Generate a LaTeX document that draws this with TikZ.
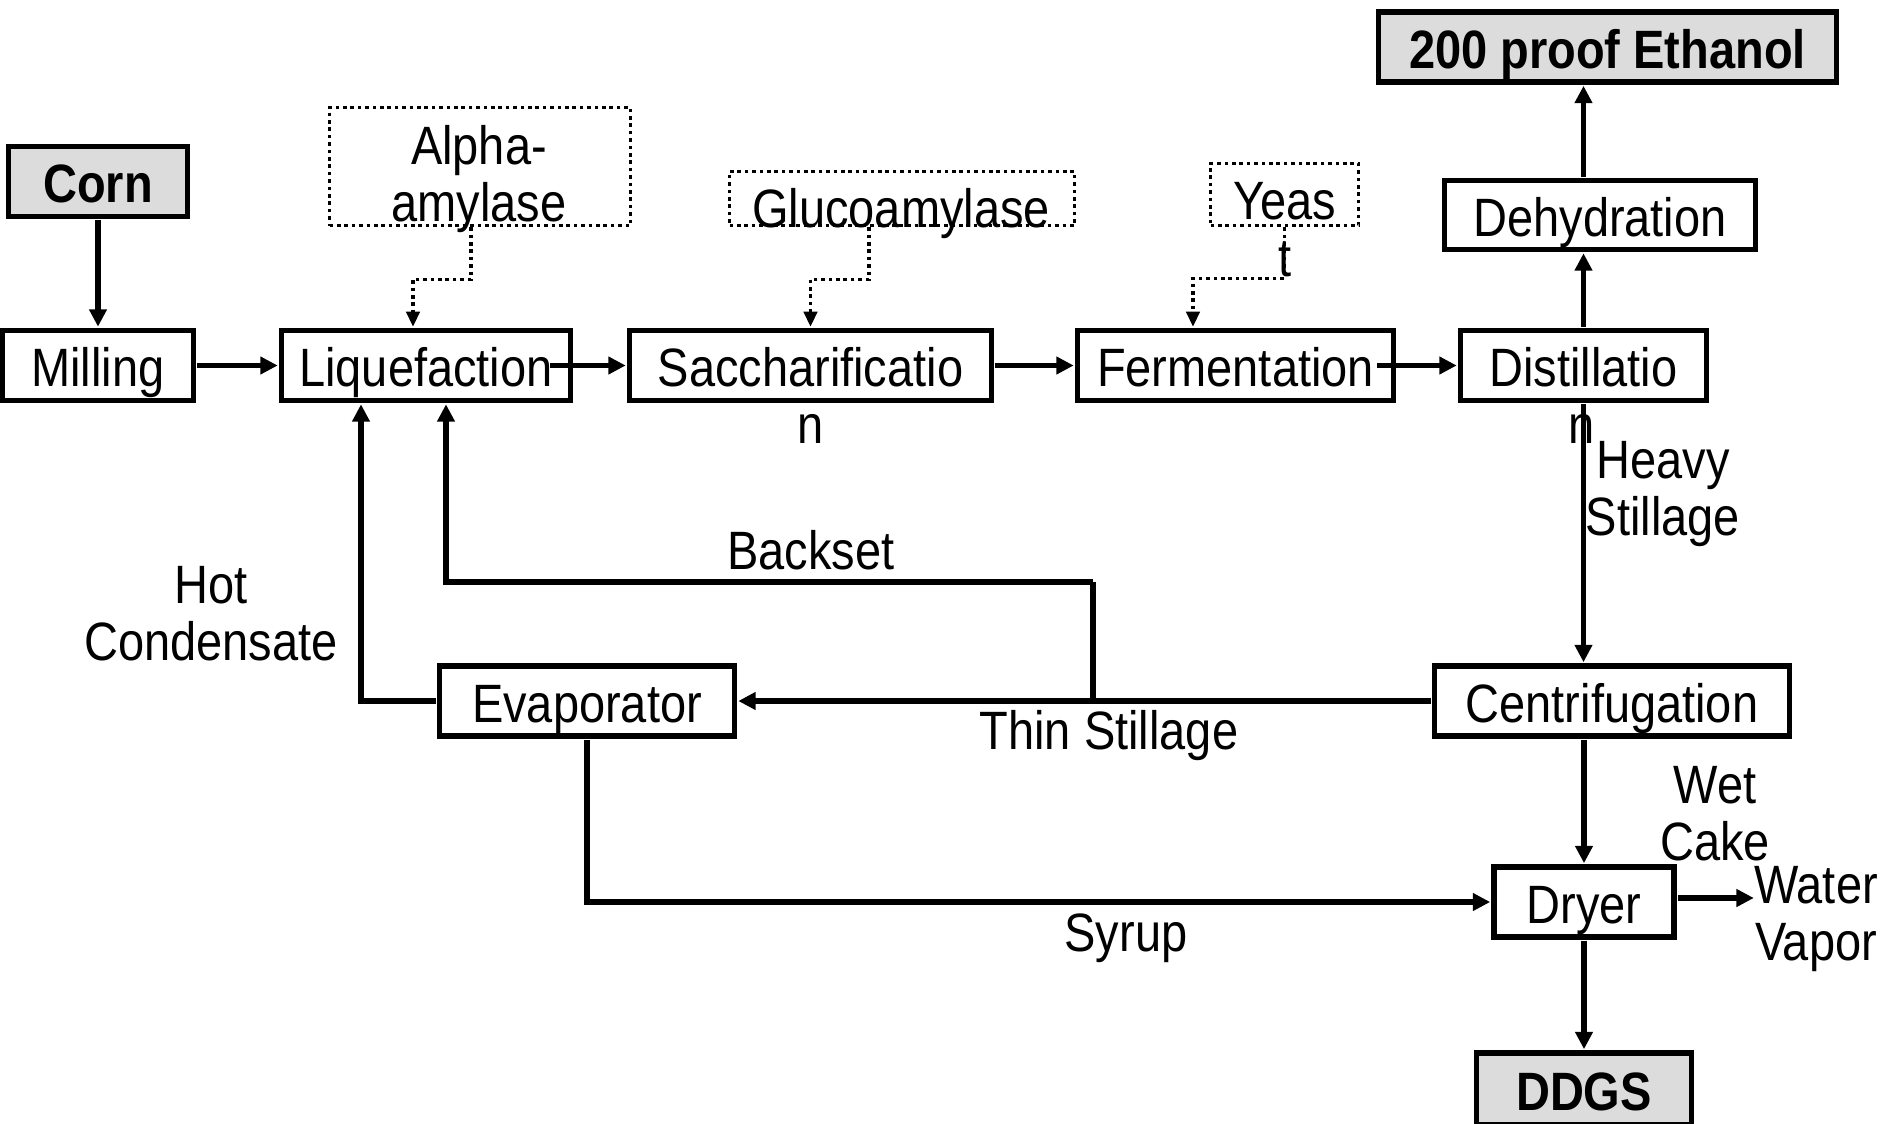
\documentclass[tikz,border=0pt]{standalone}
\usepackage{fontspec}
\setmainfont{Liberation Sans}[FakeStretch=0.87]
\usetikzlibrary{arrows.meta}
\definecolor{stockgray}{HTML}{DCDCDC}
\tikzset{
  unit/.style={draw,line width=2.8pt,minimum height=35pt,inner sep=0pt,outer sep=1.9pt,
    text height=24pt,text depth=2.7pt},
  endbox/.style={unit,fill=stockgray,font=\fontsize{27}{28.5}\selectfont\bfseries},
  additive/.style={draw,line width=1.6pt,dash pattern=on 1.8pt off 1.9pt,inner sep=0pt},
  txt/.style={inner sep=0pt,align=center},
  flow/.style={line width=2.8pt,-{Triangle[length=8.7pt,width=8.5pt]}},
  feed/.style={line width=1.6pt,dash pattern=on 1.8pt off 1.9pt,-{Triangle[length=7.5pt,width=6.7pt]}}
}
\begin{document}
\begin{tikzpicture}[x=0.5pt,y=-0.5pt,font=\fontsize{27}{28.5}\selectfont]
  \useasboundingbox (0,0) rectangle (1892,1124);
  % process units
  \node[endbox,minimum width=89.5pt] (corn) at (98,181.5) {Corn};
  \node[unit,minimum width=95.5pt] (mill) at (98,365.5) {Milling};
  \node[unit,minimum width=144.5pt] (liq) at (426,365.5) {Liquefaction};
  \node[unit,minimum width=181pt] (sac) at (810.5,365.5) {Saccharificatio};
  \node[unit,minimum width=158pt] (fer) at (1235.5,365.5) {Fermentation};
  \node[unit,minimum width=123pt] (dis) at (1583.5,365.5) {Distillatio};
  \node[unit,minimum width=155.5pt,minimum height=34.5pt] (deh) at (1600,215) {Dehydration};
  \node[endbox,minimum width=229pt] (eth) at (1607.5,47) {200 proof Ethanol};
  \node[unit,minimum width=177.5pt] (cen) at (1612,701) {Centrifugation};
  \node[unit,minimum width=147.5pt] (eva) at (587,701) {Evaporator};
  \node[unit,minimum width=90pt] (dry) at (1584,902) {Dryer};
  \node[endbox,minimum width=107.5pt,minimum height=36pt] (ddgs) at (1584,1089) {DDGS};
  % additives
  \node[additive,minimum width=150.5pt,minimum height=59pt] (alp) at (480,166.5) {};
  \node[additive,minimum width=172.5pt,minimum height=27pt] (glu) at (902,198.5) {};
  \node[additive,minimum width=74pt,minimum height=31pt] (yea) at (1284.5,194.5) {};
  \node[txt] (alptxt) at (479,179.5) {Alpha-\\amylase};
  \node[txt] (glutxt) at (901,213.5) {Glucoamylase};
  \node[txt] (yeatxt) at (1284.5,201) {Yeas};
  \node[txt] (yeat) at (1285,259) {t};
  \node[txt] (sacn) at (811,429) {n};
  \node[txt] (disn) at (1582,429) {n};
  % stream labels
  \node[txt] (heavy) at (1663,494) {Heavy\\Stillage};
  \node[txt] (backset) at (811,550) {Backset};
  \node[txt] (hotc) at (211,614) {Hot\\Condensate};
  \node[txt] (thin) at (1109,736) {Thin Stillage};
  \node[txt] (wet) at (1715,814) {Wet\\Cake};
  \node[txt] (syrup) at (1126,938) {Syrup};
  \node[txt] (vapor) at (1816,919) {Water\\Vapor};
  \coordinate (bs) at (1093,699);
  \coordinate (bsturn) at (1093,582);

  \draw[flow] (corn.south) -- (corn.south |- mill.north);
  \draw[flow] (mill) -- (liq);
  \draw[flow] ([xshift=-12pt]liq.east) -- (sac.west);
  \draw[flow] (sac) -- (fer);
  \draw[flow] ([xshift=-10pt]fer.east) -- (dis.west);
  \draw[flow] (dis.north) -- (dis.north |- deh.south);
  \draw[flow] (dis.north |- deh.north) -- (dis.north |- eth.south);
  \draw[flow] (dis.south) -- (dis.south |- cen.north);
  \draw[flow] (dry.north |- cen.south) -- (dry.north);
  \draw[flow] (dry) -- (ddgs);
  \draw[flow] ([yshift=2pt]dry.east) -- ([yshift=2pt]dry.east -| vapor.west);
  \draw[flow] (cen.west) -- (eva.east);
  \draw[line width=2.8pt] (bs) -- (bsturn);
  \draw[flow] (bsturn) -| ([xshift=10pt]liq.south);
  \draw[flow] (eva.west) -| ([xshift=-32.5pt]liq.south);
  \draw[flow] (eva.south) |- (dry.west);

  \draw[feed] ([xshift=-4.5pt]alp.south) -- ++(0,52) -| ([xshift=-6.5pt]liq.north);
  \draw[feed] ([xshift=-16.5pt]glu.south) -- ++(0,52) -| (sac.north);
  \draw[feed] (yea.south) -- ++(0,51) -| ([xshift=-21.25pt]fer.north);
\end{tikzpicture}
\end{document}
